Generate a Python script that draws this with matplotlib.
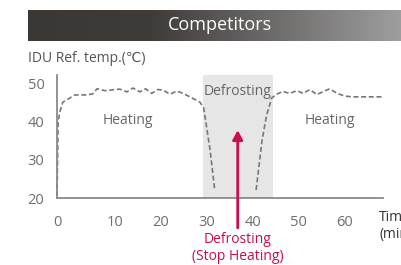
import numpy as np
import matplotlib
matplotlib.use("Agg")
import matplotlib.pyplot as plt
from matplotlib.scale import FuncScale

# ---- data ----
time_heat1 = [0, 0.1, 0.2, 0.5, 1.0, 3.1, 5.2, 6.2, 6.9, 8.3, 10, 11.1, 12.6, 13.9, 15.4, 16.7,
              18.0, 19.3, 20.4, 21.95, 23.5, 24.8, 26.3, 27.6, 28.5, 29.3, 30.7, 31.7]
temp_heat1 = [20.5, 30, 40, 42.5, 45.0, 46.9, 46.9, 47.2, 48.5, 48.0, 48.3, 48.4, 47.7, 48.7, 47.7, 48.5,
              47.3, 48.3, 48.2, 47.1, 47.9, 47.3, 46.4, 45.6, 45.0, 43.5, 32.5, 22.1]
time_heat2 = [40.7, 42.0, 43.0, 44.1, 45.2, 46.5, 48.0, 49.6, 50.9, 52.4, 53.9, 55.2, 56.7, 58.3,
              60, 61.5, 64.3, 68.3]
temp_heat2 = [22.1, 35.1, 41.7, 46.1, 47.1, 47.8, 47.3, 48.0, 47.3, 48.3, 47.0, 47.7, 48.5, 47.3,
              46.6, 46.4, 46.4, 46.4]
defrost_span = [29.1, 44.3]
xticks = [0, 10, 20, 30, 40, 50, 60]
yticks = [20, 30, 40, 50]
title = "Competitors"
ylabel = "IDU Ref. temp.(℃)"
xlabel = "Time\n(min)"
annotation = "Defrosting\n(Stop Heating)"

FAM = ["Open Sans", "DejaVu Sans"]
plt.rcParams["font.family"] = FAM
RED = "#cc0e4a"
GRAY = "#6e6e6e"

W, H = 401, 265
fig = plt.figure(figsize=(W / 100, H / 100), dpi=100)

# header bar with gradient
hax = fig.add_axes([28 / W, 1 - 41 / H, 1 - 28 / W, 31 / H])
c0 = np.array([0x3b, 0x37, 0x35]) / 255
c1 = np.array([0x3f, 0x3b, 0x39]) / 255
c2 = np.array([0x9e, 0x9e, 0x9e]) / 255
xs = np.linspace(0, 1, 400)
grad = np.zeros((1, 400, 3))
for i, v in enumerate(xs):
    if v < 0.33:
        grad[0, i] = c0 + (c1 - c0) * v / 0.33
    else:
        grad[0, i] = c1 + (c2 - c1) * (v - 0.33) / 0.67
hax.imshow(grad, aspect="auto", extent=[0, 1, 0, 1])
hax.set_axis_off()
fig.text(220 / W, 1 - 25.5 / H, title, color="white", fontsize=13, ha="center", va="center")
fig.text(28 / W, 1 - 59 / H, ylabel, color="#555555", fontsize=10, ha="left", va="center")

# main axes
ax = fig.add_axes([57 / W, 1 - 198 / H, (383 - 57) / W, (198 - 75) / H])


def fwd(x):
    x = np.asarray(x, dtype=float)
    return np.where(x < 10, x * 1.26, x + 2.6)


def inv(y):
    y = np.asarray(y, dtype=float)
    return np.where(y < 12.6, y / 1.26, y - 2.6)


ax.set_xscale(FuncScale(ax.xaxis, (fwd, inv)))
ax.set_xlim(0, 68.3)
ax.set_ylim(20, 52.1)

ax.axvspan(defrost_span[0], defrost_span[1], color="#e6e6e6", lw=0, zorder=0)
ax.plot(time_heat1, temp_heat1, ls=(0, (3, 1.6)), color="#777777", lw=1.2, clip_on=False)
ax.plot(time_heat2, temp_heat2, ls=(0, (3, 1.6)), color="#777777", lw=1.2, clip_on=False)

for s in ["top", "right"]:
    ax.spines[s].set_visible(False)
for s in ["left", "bottom"]:
    ax.spines[s].set_color("#8a8a8a")
    ax.spines[s].set_linewidth(1.3)
ax.set_xticks(xticks)
ax.set_yticks(yticks)
ax.set_xticklabels([str(v) for v in xticks])
ax.set_yticklabels([str(v) for v in yticks])
ax.tick_params(axis="both", length=0, labelsize=10.5, labelcolor=GRAY)
ax.tick_params(axis="x", pad=12)
ax.tick_params(axis="y", pad=9)
ax.minorticks_off()

ax.text(12.8, 40.3, "Heating", color="#666666", fontsize=10, ha="center", va="center")
ax.text(56.7, 40.3, "Heating", color="#666666", fontsize=10, ha="center", va="center")
ax.text(36.7, 47.9, "Defrosting", color="#666666", fontsize=10, ha="center", va="center")

ax.annotate("", xy=(36.7, 37.7), xytext=(36.7, 12.2), annotation_clip=False,
            arrowprops=dict(arrowstyle="-|>,head_length=0.55,head_width=0.3", color=RED, lw=2,
                            shrinkA=0, shrinkB=0))
fig.text(238 / W, 1 - 248 / H, annotation, color=RED, fontsize=10, ha="center", va="center",
         linespacing=1.25)
fig.text(379 / W, 1 - 226 / H, xlabel, color="#333333", fontsize=10, ha="left", va="center",
         linespacing=1.2)

fig.savefig("out.png", dpi=100)
